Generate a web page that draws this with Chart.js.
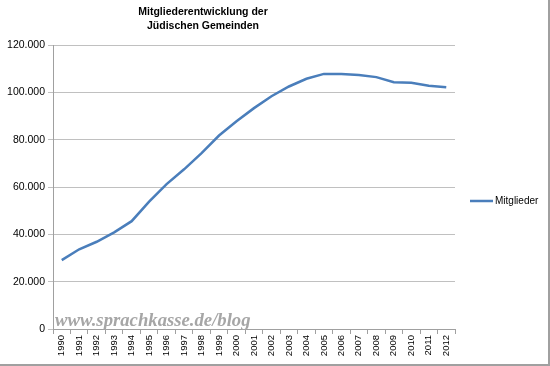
<!DOCTYPE html>
<html>
<head>
<meta charset="utf-8">
<script src="https://cdn.jsdelivr.net/npm/chart.js@4.4.1/dist/chart.umd.min.js"></script>
<style>
html,body{margin:0;padding:0;background:#fff;}
#wrap{width:550px;height:366px;position:relative;}
</style>
</head>
<body>
<div id="wrap"><canvas id="c" width="550" height="366"></canvas></div>
<script>
const years = ["1990","1991","1992","1993","1994","1995","1996","1997","1998","1999","2000","2001","2002","2003","2004","2005","2006","2007","2008","2009","2010","2011","2012"];
const mitglieder = [29089,33692,36858,40840,45559,53797,61203,67471,74289,81739,87756,93326,98335,102472,105733,107794,107794,107330,106435,104241,104024,102797,102135];
const yTicks = [0,20000,40000,60000,80000,100000,120000];
const titleLines = ["Mitgliederentwicklung der","Jüdischen Gemeinden"];
const seriesName = "Mitglieder";
const watermark = "www.sprachkasse.de/blog";

const fmt = v => v.toLocaleString('de-DE');
const FONT = "'Liberation Sans', Arial, sans-serif";

const deco = {
  id: 'deco',
  afterDatasetsDraw(chart) {
    const ctx = chart.ctx;
    const ca = chart.chartArea;
    ctx.save();
    ctx.font = "italic bold 18.7px 'Liberation Serif', serif";
    ctx.fillStyle = '#a6a6a6';
    ctx.textAlign = 'left';
    ctx.textBaseline = 'alphabetic';
    ctx.fillText(watermark, ca.left + 2, ca.bottom - 3);
    ctx.restore();
  },
  afterDraw(chart) {
    const ctx = chart.ctx;
    ctx.save();
    ctx.font = "bold 10.5px " + FONT;
    ctx.fillStyle = '#000';
    ctx.textAlign = 'center';
    ctx.textBaseline = 'middle';
    ctx.fillText(titleLines[0], 203, 12);
    ctx.fillText(titleLines[1], 203, 26);
    const ds = chart.data.datasets[0];
    ctx.strokeStyle = ds.borderColor;
    ctx.lineWidth = 2.5;
    ctx.beginPath();
    ctx.moveTo(470, 201);
    ctx.lineTo(493, 201);
    ctx.stroke();
    ctx.font = "10px " + FONT;
    ctx.textAlign = 'left';
    ctx.fillText(ds.label, 495, 201);
    ctx.strokeStyle = '#a0a0a0';
    ctx.lineWidth = 2;
    ctx.beginPath();
    ctx.moveTo(549, 0);
    ctx.lineTo(549, 365);
    ctx.lineTo(0, 365);
    ctx.stroke();
    ctx.restore();
  }
};

new Chart(document.getElementById('c'), {
  type: 'line',
  data: {
    labels: years,
    datasets: [{
      label: seriesName,
      data: mitglieder,
      borderColor: '#4a7ebb',
      backgroundColor: '#4a7ebb',
      borderWidth: 2.5,
      pointRadius: 0,
      tension: 0,
      fill: false
    }]
  },
  options: {
    responsive: false,
    animation: false,
    layout: { padding: { left: 0, top: 45, right: 95, bottom: 0 } },
    plugins: { legend: { display: false }, title: { display: false }, tooltip: { enabled: false } },
    scales: {
      x: {
        type: 'category',
        offset: true,
        afterFit(s) { s.height = 37; },
        grid: { offset: true, drawOnChartArea: false, drawTicks: true, tickLength: 5, color: '#a0a0a0' },
        border: { color: '#a0a0a0', width: 1 },
        ticks: { minRotation: 90, maxRotation: 90, autoSkip: false, padding: 1, color: '#000', font: { family: FONT, size: 9.5 } }
      },
      y: {
        min: 0, max: 120000,
        afterFit(s) { s.width = 53; },
        afterBuildTicks(s) { s.ticks = yTicks.map(v => ({ value: v })); },
        grid: { color: '#c0c0c0', tickLength: 5, drawTicks: true },
        border: { color: '#a0a0a0', width: 1 },
        ticks: { callback: v => fmt(v), padding: 3, color: '#000', font: { family: FONT, size: 10.5 } }
      }
    }
  },
  plugins: [deco]
});
</script>
</body>
</html>
